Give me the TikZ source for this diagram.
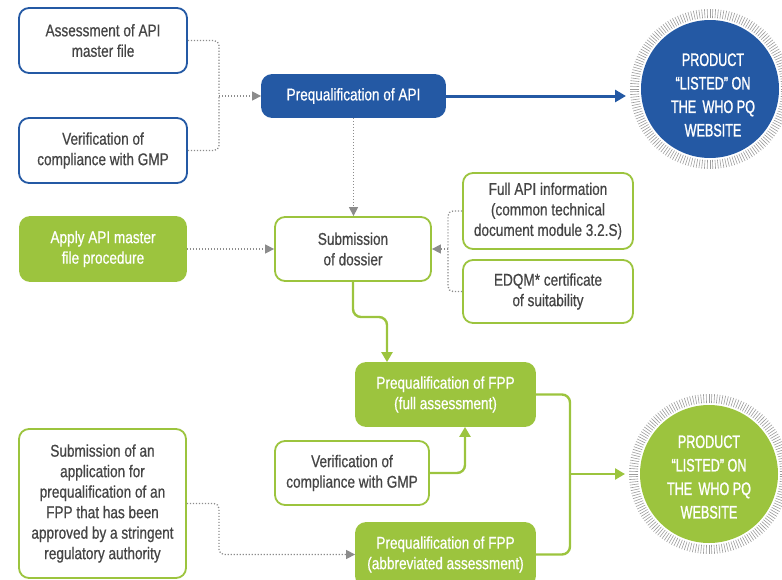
\documentclass[tikz,border=0pt]{standalone}
\usepackage{fontspec}
\setmainfont{Liberation Sans}[FakeStretch=0.8, FakeBold=0.6]
\newfontfamily\circfont{Liberation Sans}[FakeStretch=0.7, FakeBold=1.2]
\usetikzlibrary{arrows.meta}

\definecolor{whoblue}{HTML}{2459A4}
\definecolor{whogreen}{HTML}{9CC43E}
\definecolor{txtgrey}{HTML}{454545}
\definecolor{dotgrey}{HTML}{8C8C8C}
\definecolor{ringgrey}{HTML}{9C9C9C}

\tikzset{
  box/.style={rounded corners=10pt, line width=1.8pt, align=center, inner sep=0pt,
    font=\fontsize{17}{20.5}\selectfont},
  bluebox/.style={box, draw=whoblue, fill=white, text=txtgrey},
  bluefill/.style={box, draw=whoblue, fill=whoblue, text=white},
  greenbox/.style={box, draw=whogreen, fill=white, text=txtgrey},
  greenfill/.style={box, draw=whogreen, fill=whogreen, text=white},
  listed/.style={circle, minimum size=138pt, inner sep=0pt, outer sep=15pt},
  listedtext/.style={inner sep=0pt, text=white, align=center,
    font=\circfont\fontsize{18}{23.5}\selectfont},
  dotline/.style={draw=dotgrey, line width=1.3pt, dash pattern=on 1.2pt off 1.8pt,
    rounded corners=5pt},
  dottip/.style={-{Triangle[length=9pt,width=9pt]}},
  greenline/.style={draw=whogreen, line width=2.4pt, rounded corners=8pt},
  greentip/.style={-{Triangle[length=10pt,width=11pt]}},
  ticks/.style={draw=ringgrey, line width=0.6pt}
}

\begin{document}
\begin{tikzpicture}[x=1pt,y=-1pt]
\useasboundingbox (0,0) rectangle (782,579);
\clip (0,0) rectangle (782,579);

% API branch
\node[bluebox, minimum width=168pt, minimum height=65pt] (a1) at (103,40.5)
  {Assessment of API\\master file};
\node[bluebox, minimum width=168pt, minimum height=65pt] (a2) at (103,150.5)
  {Verification of\\compliance with GMP};
\node[bluefill, minimum width=183pt, minimum height=42pt] (api) at (353.5,96)
  {Prequalification of API};

% Dossier
\node[greenbox, minimum width=156pt, minimum height=64pt] (sub) at (353,249)
  {Submission\\of dossier};
\node[greenfill, minimum width=166pt, minimum height=64pt] (apply) at (103,249)
  {Apply API master\\file procedure};
\node[greenbox, minimum width=170pt, minimum height=76pt] (full) at (548,211)
  {Full API information\\(common technical\\document module 3.2.S)};
\node[greenbox, minimum width=170pt, minimum height=63pt] (edqm) at (548,291.5)
  {EDQM* certificate\\of suitability};

% FPP branch
\node[greenfill, minimum width=179pt, minimum height=63pt] (fppf) at (445.5,394.5)
  {Prequalification of FPP\\(full assessment)};
\node[greenbox, minimum width=154pt, minimum height=64pt] (gmp2) at (352,473)
  {Verification of\\compliance with GMP};
\node[greenfill, minimum width=179pt, minimum height=63pt] (fppa) at (445.5,554.5)
  {Prequalification of FPP\\(abbreviated assessment)};
\node[greenbox, minimum width=167pt, minimum height=149pt] (sra) at (102.5,503.5)
  {Submission of an\\application for\\prequalification of an\\FPP that has been\\approved by a stringent\\regulatory authority};

% Listing badges with hatched rims
\foreach \a in {0,2,...,358} {
  \draw[ticks] (710,89) ++(\a:71) -- ++(\a:9);
  \draw[ticks] (709,474) ++(\a:71) -- ++(\a:9);
}
\node[listed, fill=whoblue] (c1) at (710,89) {};
\node[listed, fill=whogreen] (c2) at (709,474) {};
\node[listedtext] (c1t) at ([xshift=3pt,yshift=-6pt]c1.center)
  {PRODUCT\\“LISTED” ON\\THE\hspace{0.35em}WHO PQ\\WEBSITE};
\node[listedtext] (c2t) at ([yshift=-3pt]c2.center)
  {PRODUCT\\“LISTED” ON\\THE\hspace{0.35em}WHO PQ\\WEBSITE};

% Junction points
\coordinate (j1) at (219,96);
\coordinate (j2) at (448,249);
\coordinate (j3) at (570,474);
\coordinate (k1) at (387,317);
\coordinate (k2) at (219,0);

% Dotted connectors
\draw[dotline] (a1.east) -| (j1);
\draw[dotline] (a2.east) -| (j1);
\draw[dotline, dottip] (j1) -- (api.west);
\draw[dotline, dottip] (api.south) -- (api.south |- sub.north);
\draw[dotline, dottip] (apply.east) -- (sub.west);
\draw[dotline] (full.west) -| (j2);
\draw[dotline] (edqm.west) -| (j2);
\draw[dotline, dottip] (j2) -- (sub.east);
\draw[dotline, dottip] (sra.east) -| (k2 |- fppa.west) -- (fppa.west);

% Solid connectors
\draw[draw=whoblue, line width=3pt, -{Triangle[length=11pt,width=12pt]}]
  (api.east) -- (api.east -| c1.west);
\draw[greenline, greentip] (sub.south) |- (k1) -- (k1 |- fppf.north);
\draw[greenline, greentip] (gmp2.east) -| ([xshift=19.5pt]fppf.south);
\draw[greenline] (fppf.east) -| (j3);
\draw[greenline] (fppa.east) -| (j3);
\draw[greenline, greentip] (j3) -- (c2.west);
\end{tikzpicture}
\end{document}
